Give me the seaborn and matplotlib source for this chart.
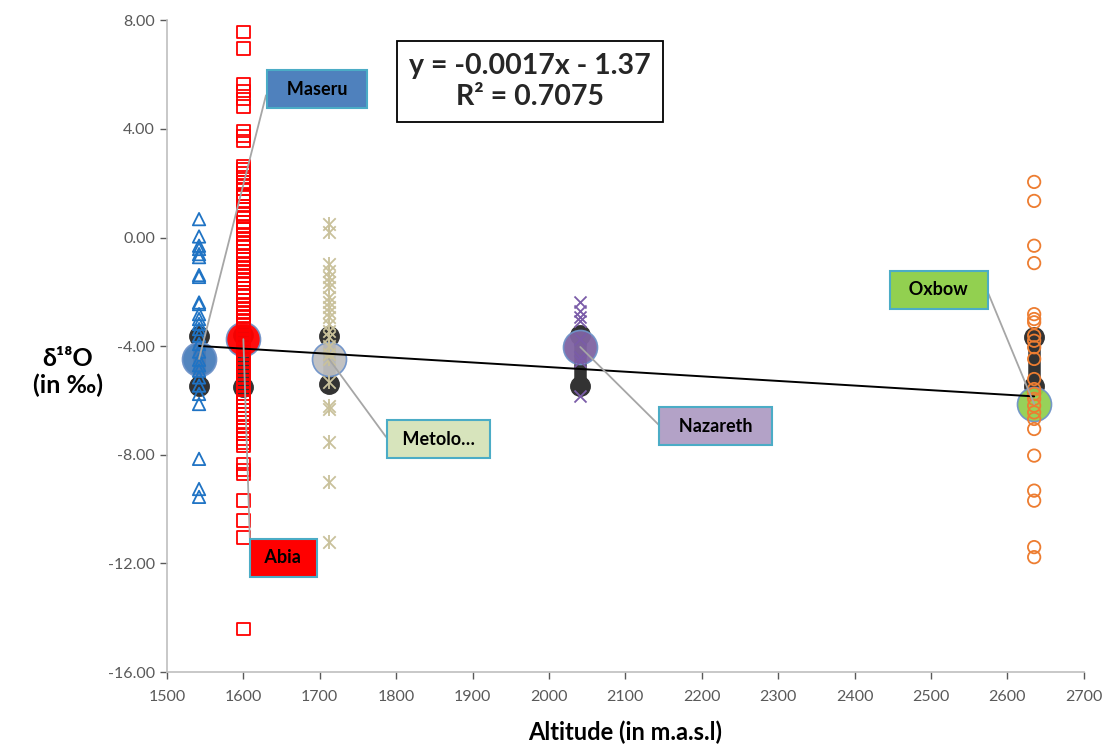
import matplotlib
matplotlib.use("Agg")
import matplotlib.pyplot as plt
import seaborn as sns
import pandas as pd
import numpy as np

# ---------------- data ----------------
stations = ["Maseru", "Abia", "Metolong", "Nazareth", "Oxbow"]
station_labels = ["Maseru", "Abia", "Metolo…", "Nazareth", "Oxbow"]
altitudes = [1542, 1600, 1712, 2041, 2635]
station_means = [-4.47, -3.74, -4.47, -4.03, -6.13]
bar_high = [-3.62, -3.60, -3.62, -3.60, -3.67]
bar_low = [-5.48, -5.50, -5.40, -5.45, -5.47]

maseru_d18o = [0.68, 0.04, -0.30, -0.42, -0.61, -0.72, -1.38, -1.45, -2.39, -2.45,
               -2.82, -3.00, -3.18, -3.37, -3.61, -3.92, -4.20, -4.50, -4.70, -4.90,
               -5.15, -5.45, -5.76, -6.13, -8.15, -9.26, -9.55]
abia_d18o = [7.57, 6.96, 5.65, 5.40, 5.10, 4.83, 3.93, 3.75, 3.56,
             2.62, 2.51, 2.36, 2.22, 2.03, 1.93, 1.79, 1.61, 1.52, 1.33, 1.17, 1.04,
             0.88, 0.75, 0.57, 0.40, 0.29, 0.10, -0.04, -0.22, -0.33, -0.51, -0.65,
             -0.81, -0.94, -1.11, -1.23, -1.42, -1.54, -1.71, -1.85, -2.02, -2.14,
             -2.31, -2.45, -2.62, -2.74, -2.92, -3.04, -3.21, -3.33, -3.51, -3.65,
             -3.82, -3.94, -4.13, -4.25, -4.41, -4.54, -4.72, -4.85, -5.02, -5.13,
             -5.31, -5.44, -5.62, -5.75, -5.91, -6.04, -6.21, -6.35, -6.52, -6.65,
             -6.81, -6.94, -7.11, -7.24, -7.41, -7.56, -7.67,
             -8.34, -8.55, -8.70, -9.69, -10.42, -11.05, -14.41]
metolong_d18o = [0.50, 0.19, -0.98, -1.22, -1.46, -1.65, -1.83, -2.20, -2.38, -2.57,
                 -2.75, -2.94, -3.18, -3.43, -3.67, -3.98, -4.29, -4.47, -5.33,
                 -6.20, -6.31, -7.54, -9.00, -11.22]
nazareth_d18o = [-2.39, -2.69, -2.94, -3.06, -3.74, -4.41, -4.53, -5.82]
oxbow_d18o = [2.05, 1.35, -0.30, -0.94, -2.82, -3.00, -3.12, -3.61, -3.80, -4.04,
              -4.47, -5.21, -5.58, -5.76, -5.94, -6.19, -6.44, -6.68, -7.05, -8.03,
              -9.32, -9.69, -11.40, -11.77]

reg_slope = -0.0017
reg_intercept = -1.37
r_squared = 0.7075

x_ticks = list(range(1500, 2701, 100))
y_ticks = [-16, -12, -8, -4, 0, 4, 8]

# ---------------- styling ----------------
sns.set_theme(style="white")
plt.rcParams["font.family"] = ["Lato", "DejaVu Sans"]

point_colors = ["#1f73c4", "#ff0000", "#c9c19b", "#7a5ca8", "#ed7d31"]
mean_colors = ["#4a7ebb", "#ff0000", "#bfbfbf", "#8064a2", "#92d050"]
box_colors = ["#4f81bd", "#ff0000", "#d7e4bc", "#b3a2c7", "#92d050"]

fig = plt.figure(figsize=(11.02, 7.49), dpi=100)
ax = fig.add_axes([0.1515, 0.1028, 0.832, 0.870])

# error/range bars (dark capsules)
for alt, hi, lo in zip(altitudes, bar_high, bar_low):
    ax.plot([alt, alt], [hi, lo], color="#333333", lw=9, solid_capstyle="round",
            zorder=1)
    ax.plot([alt, alt], [hi, lo], ls="none", marker="o", ms=14, mfc="#333333",
            mec="#333333", zorder=1)

# station means (large circles)
means_df = pd.DataFrame({"station": stations, "alt": altitudes, "mean": station_means})
for i, row in means_df.iterrows():
    sns.scatterplot(x=[row["alt"]], y=[row["mean"]], ax=ax, s=600, color=mean_colors[i],
                    edgecolor="#6f93c9", linewidth=1.2, alpha=0.95, zorder=2, legend=False)

# individual samples
series = [maseru_d18o, abia_d18o, metolong_d18o, nazareth_d18o, oxbow_d18o]
markers = ["^", "s", None, "x", "o"]
rows = []
for st, alt, vals in zip(stations, altitudes, series):
    for v in vals:
        rows.append({"station": st, "alt": alt, "d18O": v})
df = pd.DataFrame(rows)

for i, st in enumerate(stations):
    sub = df[df["station"] == st]
    c = point_colors[i]
    if st == "Metolong":
        sns.scatterplot(data=sub, x="alt", y="d18O", ax=ax, marker="x", s=80,
                        color=c, linewidth=1.3, zorder=3, legend=False)
        sns.scatterplot(data=sub, x="alt", y="d18O", ax=ax, marker="|", s=110,
                        color=c, linewidth=1.3, zorder=3, legend=False)
    elif st == "Nazareth":
        sns.scatterplot(data=sub, x="alt", y="d18O", ax=ax, marker="x", s=75,
                        color=c, linewidth=1.3, zorder=3, legend=False)
    else:
        sns.scatterplot(data=sub, x="alt", y="d18O", ax=ax, marker=markers[i], s=80,
                        color=c, facecolor="none", edgecolor=c, linewidth=1.3,
                        zorder=3, legend=False)

# regression line
reg_x = np.array([min(altitudes), max(altitudes)])
reg_df = pd.DataFrame({"alt": reg_x, "fit": reg_slope * reg_x + reg_intercept})
sns.lineplot(data=reg_df, x="alt", y="fit", ax=ax, color="black", lw=1.4, zorder=4)

# equation box
ax.text(1975, 5.76, f"y = {reg_slope}x - {abs(reg_intercept)}\nR² = {r_squared}",
        ha="center", va="center", fontsize=20.5, fontweight="bold", linespacing=1.25,
        bbox=dict(boxstyle="square,pad=0.42", fc="white", ec="black", lw=1.3),
        zorder=6)

# data-label callouts
label_pos = [(1696, 5.47), (1652, -11.8), (1855, -7.42), (2218, -6.94), (2510, -1.93)]
label_fmt = ["  {}  ", " {} ", " {} ", "  {}  ", "  {}  "]
label_side = ["left", "left", "left", "left", "right"]
for i in range(5):
    side = label_side[i]
    relpos = (0, 0.5) if side == "left" else (1, 0.5)
    angA = 180 if side == "left" else 0
    ax.annotate(label_fmt[i].format(station_labels[i]), xy=(altitudes[i], station_means[i]),
                xytext=label_pos[i], ha="center", va="center", fontsize=13,
                fontweight="bold", color="black",
                bbox=dict(boxstyle="square,pad=0.6", fc=box_colors[i], ec="#4bacc6", lw=1.5),
                arrowprops=dict(arrowstyle="-", color="#a6a6a6", lw=1.3, shrinkA=0, shrinkB=0,
                                relpos=relpos,
                                connectionstyle=f"arc,angleA={angA},angleB=0,armA=10,armB=0,rad=0"),
                zorder=7)

# axes
ax.set_xlim(1500, 2700)
ax.set_ylim(-16, 8)
ax.set_xticks(x_ticks)
ax.set_yticks(y_ticks)
ax.set_yticklabels([f"{v:.2f}" for v in y_ticks])
ax.tick_params(axis="both", labelsize=11.5, colors="#595959", length=5, width=1,
               direction="out", bottom=True, left=True)
ax.tick_params(axis="x", pad=8)
for s in ["top", "right"]:
    ax.spines[s].set_visible(False)
for s in ["left", "bottom"]:
    ax.spines[s].set_color("#bfbfbf")
    ax.spines[s].set_linewidth(1.2)

ax.set_xlabel("Altitude (in m.a.s.l)", fontsize=17, fontweight="bold", color="black",
              labelpad=12)
ax.set_ylabel("δ¹⁸O\n(in ‰)", fontsize=18, fontweight="bold", color="black",
              rotation=0, labelpad=45, va="center", ha="center")
ax.yaxis.set_label_coords(-0.108, 0.46)

fig.savefig("out.png", dpi=100)
